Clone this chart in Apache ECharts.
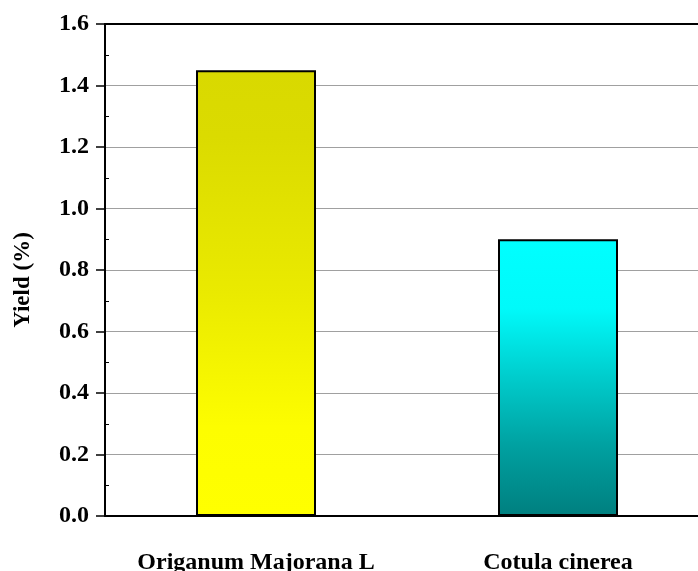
<!DOCTYPE html>
<html>
<head>
<meta charset="utf-8">
<script src="https://cdn.jsdelivr.net/npm/echarts@6/dist/echarts.min.js"></script>
<style>
html,body{margin:0;padding:0;background:#fff;}
#c{width:698px;height:571px;}
</style>
</head>
<body>
<div id="c"></div>
<script>
var categories = ['Origanum Majorana L', 'Cotula cinerea'];
var yieldValues = [1.45, 0.9];
var yTitle = 'Yield (%)';

var gradients = [
  new echarts.graphic.LinearGradient(0, 0, 0, 1, [
    {offset: 0, color: '#d9d900'},
    {offset: 0.15, color: '#dbdb00'},
    {offset: 0.5, color: '#eaea00'},
    {offset: 0.8, color: '#fdfd00'},
    {offset: 1, color: '#ffff00'}
  ]),
  new echarts.graphic.LinearGradient(0, 0, 0, 1, [
    {offset: 0, color: '#00ffff'},
    {offset: 0.25, color: '#00fafa'},
    {offset: 0.5, color: '#00cccc'},
    {offset: 0.75, color: '#00a0a0'},
    {offset: 1, color: '#007f7f'}
  ])
];

var font = 'Liberation Serif, Times New Roman, serif';
var chart = echarts.init(document.getElementById('c'));
chart.setOption({
  animation: false,
  backgroundColor: '#fff',
  grid: {left: 105, top: 24, width: 604, height: 492, containLabel: false, outerBoundsMode: 'none'},
  xAxis: [{
    type: 'category',
    data: categories,
    axisLine: {lineStyle: {color: '#000', width: 2}},
    axisTick: {alignWithLabel: true, length: 8, lineStyle: {color: '#000', width: 1.5}, interval: 0},
    axisLabel: {color: '#000', fontFamily: font, fontWeight: 'bold', fontSize: 24, margin: 35, interval: 0}
  }, {
    type: 'category',
    position: 'top',
    data: categories,
    axisLine: {show: true, onZero: false, lineStyle: {color: '#000', width: 2}},
    axisTick: {show: false},
    axisLabel: {show: false}
  }],
  yAxis: [{
    type: 'value',
    min: 0, max: 1.6, interval: 0.2,
    name: yTitle,
    nameLocation: 'middle',
    nameGap: 70,
    nameRotate: 90,
    nameTextStyle: {color: '#000', fontFamily: font, fontWeight: 'bold', fontSize: 23, padding: [0, 20, 0, 0]},
    axisLine: {show: true, lineStyle: {color: '#000', width: 2}},
    axisTick: {show: true, length: 9, lineStyle: {color: '#000', width: 1.5}},
    minorTick: {show: true, splitNumber: 2, length: -4, lineStyle: {color: '#000', width: 1}},
    axisLabel: {color: '#000', fontFamily: font, fontWeight: 'bold', fontSize: 24, margin: 16,
      formatter: function (v) { return v.toFixed(1); }},
    splitLine: {show: true, lineStyle: {color: '#a0a0a0', width: 1}}
  }],
  series: [{
    type: 'bar',
    xAxisIndex: 0,
    yAxisIndex: 0,
    barWidth: 120,
    data: yieldValues.map(function (v, i) {
      return {value: v, itemStyle: {color: gradients[i], borderColor: '#000', borderWidth: 2}};
    })
  }]
});
</script>
</body>
</html>
